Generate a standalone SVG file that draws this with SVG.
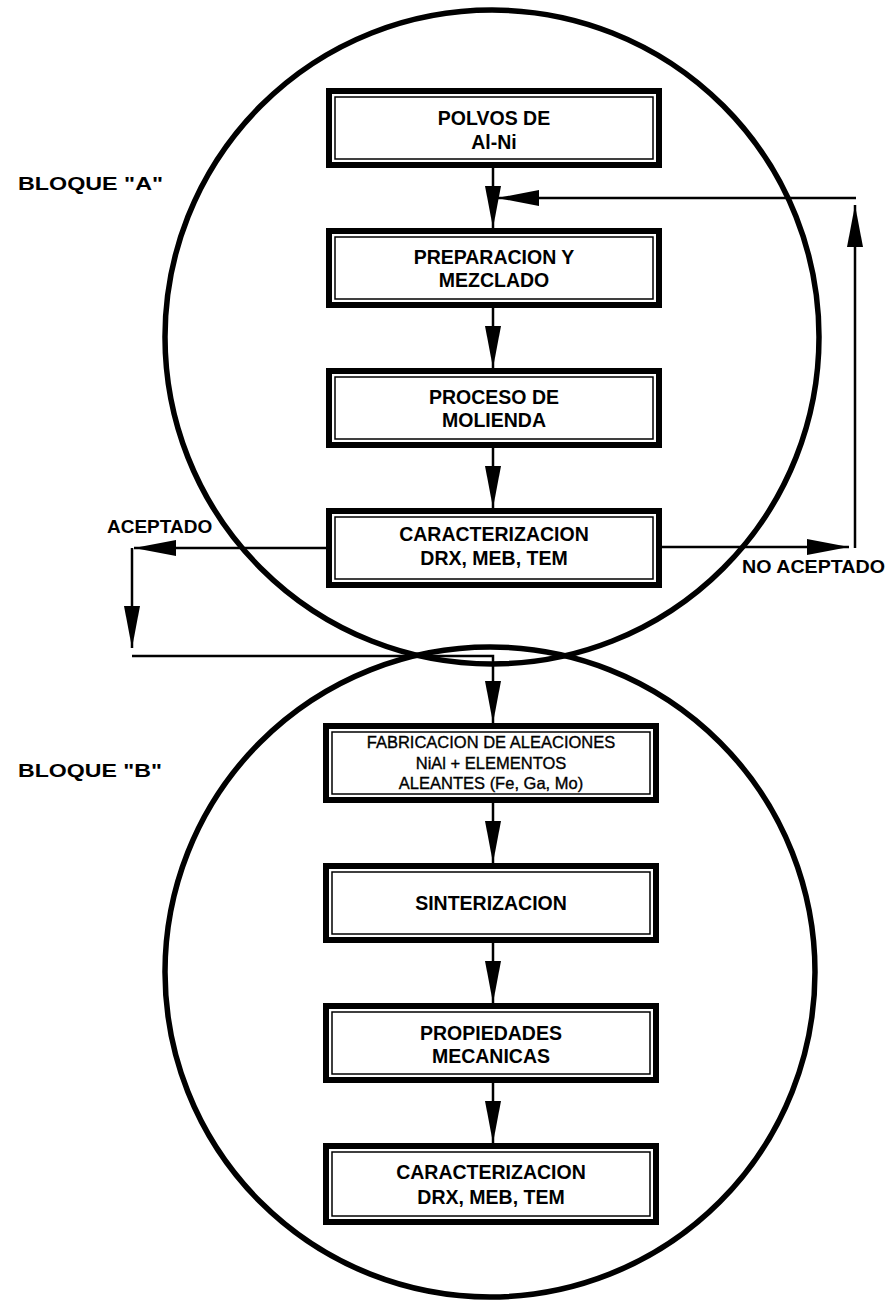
<svg xmlns="http://www.w3.org/2000/svg" width="890" height="1302" viewBox="0 0 890 1302">
<style>
.bg{fill:#fff}
.ring{fill:none;stroke:#000;stroke-width:5.5}
.outer{fill:#fff;stroke:#000;stroke-width:6}
.inner{fill:none;stroke:#000;stroke-width:1.5}
.t{font-family:"Liberation Sans",Arial,sans-serif;font-weight:bold;font-size:19.5px;text-anchor:middle;fill:#000}
.ts{font-family:"Liberation Sans",Arial,sans-serif;font-weight:normal;font-size:16.5px;text-anchor:middle;fill:#000;stroke:#000;stroke-width:0.35}
.lbl{font-family:"Liberation Sans",Arial,sans-serif;font-weight:bold;font-size:19px;fill:#000}
.ln{fill:none;stroke:#000;stroke-width:2.5}
</style>
<defs>
<marker id="ah" viewBox="0 0 42 16" refX="42" refY="8" markerWidth="42" markerHeight="16" markerUnits="userSpaceOnUse" orient="auto">
<path d="M0,0 L42,8 L0,16 Z" fill="#000"/>
</marker>
</defs>
<rect class="bg" x="0" y="0" width="890" height="1302"/>
<g id="circles">
<circle class="ring" cx="492" cy="337" r="327"/>
<circle class="ring" cx="490" cy="972" r="325"/>
</g>
<g id="connectors">
<path class="ln" d="M493,168 V228" marker-end="url(#ah)"/>
<path class="ln" d="M493,308 V368" marker-end="url(#ah)"/>
<path class="ln" d="M493,448 V508" marker-end="url(#ah)"/>
<path class="ln" d="M326,548 H134" marker-end="url(#ah)"/>
<path class="ln" d="M132,548 V648" marker-end="url(#ah)"/>
<path class="ln" d="M132,656 H493 V723" marker-end="url(#ah)"/>
<path class="ln" d="M662,547 H849" marker-end="url(#ah)"/>
<path class="ln" d="M855,548 V205" marker-end="url(#ah)"/>
<path class="ln" d="M856,198 H497" marker-end="url(#ah)"/>
<path class="ln" d="M493,803 V863" marker-end="url(#ah)"/>
<path class="ln" d="M493,943 V1003" marker-end="url(#ah)"/>
<path class="ln" d="M493,1083 V1143" marker-end="url(#ah)"/>
</g>
<g id="n1">
<rect class="outer" x="329" y="91" width="330" height="74"/>
<rect class="inner" x="335" y="97" width="318" height="62"/>
<text class="t" x="494" y="125">POLVOS DE</text>
<text class="t" x="494" y="149">Al-Ni</text>
</g>
<g id="n2">
<rect class="outer" x="329" y="231" width="330" height="74"/>
<rect class="inner" x="335" y="237" width="318" height="62"/>
<text class="t" x="494" y="264">PREPARACION Y</text>
<text class="t" x="494" y="287">MEZCLADO</text>
</g>
<g id="n3">
<rect class="outer" x="329" y="371" width="330" height="74"/>
<rect class="inner" x="335" y="377" width="318" height="62"/>
<text class="t" x="494" y="404">PROCESO DE</text>
<text class="t" x="494" y="427">MOLIENDA</text>
</g>
<g id="n4">
<rect class="outer" x="329" y="511" width="330" height="74"/>
<rect class="inner" x="335" y="517" width="318" height="62"/>
<text class="t" x="494" y="541">CARACTERIZACION</text>
<text class="t" x="494" y="565">DRX, MEB, TEM</text>
</g>
<g id="n5">
<rect class="outer" x="326" y="726" width="330" height="74"/>
<rect class="inner" x="332" y="732" width="318" height="62"/>
<text class="ts" x="491" y="748">FABRICACION DE ALEACIONES</text>
<text class="ts" x="491" y="769">NiAl + ELEMENTOS</text>
<text class="ts" x="491" y="789">ALEANTES (Fe, Ga, Mo)</text>
</g>
<g id="n6">
<rect class="outer" x="326" y="866" width="330" height="74"/>
<rect class="inner" x="332" y="872" width="318" height="62"/>
<text class="t" x="491" y="910">SINTERIZACION</text>
</g>
<g id="n7">
<rect class="outer" x="326" y="1006" width="330" height="74"/>
<rect class="inner" x="332" y="1012" width="318" height="62"/>
<text class="t" x="491" y="1040">PROPIEDADES</text>
<text class="t" x="491" y="1063">MECANICAS</text>
</g>
<g id="n8">
<rect class="outer" x="326" y="1146" width="330" height="76"/>
<rect class="inner" x="332" y="1152" width="318" height="64"/>
<text class="t" x="491" y="1179">CARACTERIZACION</text>
<text class="t" x="491" y="1204">DRX, MEB, TEM</text>
</g>
<g id="labels">
<text class="lbl" x="18" y="190" font-size="20" textLength="145" lengthAdjust="spacingAndGlyphs">BLOQUE "A"</text>
<text class="lbl" x="18" y="777" font-size="20" textLength="144" lengthAdjust="spacingAndGlyphs">BLOQUE "B"</text>
<text class="lbl" x="107" y="533">ACEPTADO</text>
<text class="lbl" x="742" y="573" textLength="143" lengthAdjust="spacingAndGlyphs">NO ACEPTADO</text>
</g>
</svg>
